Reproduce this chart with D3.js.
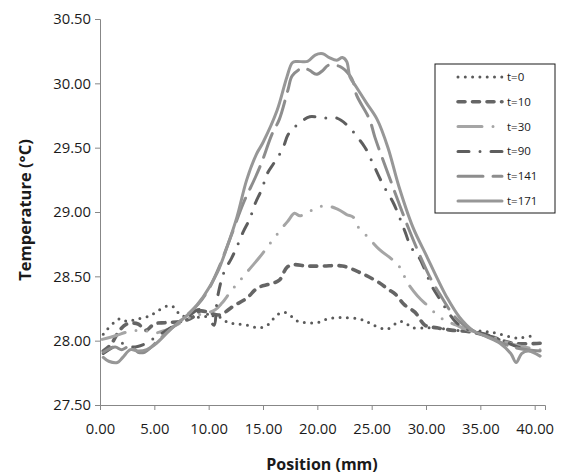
<!DOCTYPE html>
<html>
<head>
<meta charset="utf-8">
<script src="https://cdn.jsdelivr.net/npm/d3@7"></script>
<style>
    body { margin: 0; background: #fff; }
    text { font-family: 'Open Sans', sans-serif; fill: #1a1a1a; }
</style>
</head>
<body>
<div id="chart"></div>
<script>
// series labels
var seriesNames = ['t=0', 't=10', 't=30', 't=90', 't=141', 't=171'];

// [position (mm), temperature (C)]
var t0 = [[0.3,28.05],[1.8,28.17],[2.5,28.15],[3.5,28.17],[4.5,28.19],[5.3,28.23],[6.2,28.27],[6.8,28.26],[7.4,28.2],[8.5,28.18],[10.8,28.19],[11.8,28.14],[12.6,28.13],[13.6,28.12],[14.6,28.1],[15.4,28.12],[16.3,28.2],[17,28.22],[17.6,28.19],[18.2,28.15],[18.9,28.14],[20,28.14],[21,28.17],[22.3,28.18],[23.7,28.17],[24.5,28.15],[25.2,28.12],[26.4,28.09],[27.6,28.15],[28.2,28.13],[28.8,28.1],[30,28.1],[31,28.1],[32.5,28.08],[34,28.08],[35.6,28.07],[36.4,28.06],[37.7,28.03],[38.5,28.02],[39.2,28.03],[40.2,28.04]];
var t10 = [[0.3,27.92],[1,27.97],[1.8,28.08],[2.5,28.13],[3.5,28.13],[4.2,28.08],[5,28.13],[6,28.14],[7.5,28.15],[8.5,28.18],[9.2,28.23],[10,28.22],[11,28.2],[12.3,28.27],[13.5,28.33],[14.5,28.41],[15.6,28.44],[16.5,28.47],[17.2,28.57],[17.8,28.59],[19,28.58],[20.5,28.58],[22.3,28.58],[23.9,28.53],[25.7,28.45],[26.5,28.4],[27.2,28.36],[28,28.28],[29,28.22],[29.9,28.12],[31,28.1],[32.5,28.08],[34,28.07],[36,28.03],[38,27.98],[40.5,27.98]];
var t30 = [[0.2,28.01],[1.5,28.04],[2.6,28.07],[4,28.08],[5,28.06],[6,28.08],[7,28.12],[8,28.17],[9,28.2],[10,28.22],[10.6,28.24],[11.2,28.29],[12.1,28.39],[13,28.48],[13.8,28.56],[14.7,28.65],[15.6,28.75],[16.6,28.86],[17.3,28.93],[17.9,28.99],[18.4,28.97],[19.4,29.01],[20.7,29.05],[21.9,29.02],[22.7,28.98],[23.3,28.96],[23.7,28.89],[24.7,28.8],[25.7,28.71],[26.9,28.63],[27.6,28.57],[28.3,28.45],[29.2,28.35],[30.3,28.26],[31.3,28.18],[32,28.15],[32.8,28.12],[34,28.08],[35.5,28.05],[37,28.0],[38.5,27.96],[40.5,27.93]];
var t90 = [[0.3,27.9],[1.2,27.95],[2,27.98],[3,27.95],[4,27.97],[5,28.02],[6.5,28.1],[8,28.18],[9,28.24],[9.6,28.24],[10.2,28.15],[10.5,28.12],[10.8,28.33],[11.4,28.53],[12.1,28.64],[12.6,28.73],[13.2,28.85],[13.8,28.95],[14.2,29.05],[14.9,29.18],[15.4,29.3],[16,29.38],[16.8,29.49],[17.3,29.6],[17.8,29.65],[18.5,29.7],[19.3,29.74],[20.5,29.73],[21.8,29.73],[22.8,29.67],[23.7,29.58],[24.4,29.5],[25.1,29.38],[26,29.22],[27,29.07],[27.6,28.95],[28.1,28.84],[28.6,28.73],[29.4,28.64],[29.9,28.55],[30.5,28.43],[31.3,28.32],[31.9,28.24],[32.8,28.14],[34,28.08],[35.5,28.05],[37,28.0],[38.5,27.95],[40.5,27.9]];
var t141 = [[0.3,27.91],[1.4,27.95],[2,27.93],[2.8,27.96],[3.5,27.91],[4.1,27.91],[5.2,27.99],[6.5,28.09],[8,28.2],[9,28.28],[10,28.4],[11,28.58],[12,28.8],[13.2,29.07],[14.3,29.27],[14.9,29.39],[15.8,29.6],[16.5,29.72],[17.3,29.95],[17.7,30.06],[18.7,30.12],[19.3,30.1],[19.9,30.07],[20.5,30.1],[21,30.14],[22.1,30.13],[23,30.06],[23.3,30.01],[23.6,29.91],[24.8,29.72],[25.3,29.58],[26.5,29.3],[27.5,29.07],[28.5,28.85],[29.5,28.65],[30.5,28.47],[31.5,28.33],[32.5,28.2],[33.5,28.12],[34.5,28.07],[36,28.02],[38,27.95],[40.5,27.92]];
var t171 = [[0.3,27.87],[0.8,27.84],[1.6,27.83],[2.1,27.87],[2.8,27.93],[3.5,27.92],[4.3,27.93],[5.2,27.98],[6.4,28.08],[8.3,28.22],[9.5,28.34],[10.8,28.53],[11.7,28.73],[12.6,28.96],[13.5,29.25],[14.4,29.45],[15,29.54],[16.3,29.79],[17.2,30.05],[17.7,30.16],[18.1,30.17],[19.1,30.17],[19.8,30.22],[20.5,30.23],[21.1,30.2],[21.8,30.18],[22.3,30.2],[22.7,30.17],[23,30.05],[23.6,29.97],[24.5,29.85],[25.5,29.72],[26.5,29.5],[27.5,29.2],[28.8,28.88],[30.1,28.65],[31,28.49],[31.9,28.34],[33.1,28.18],[34.3,28.08],[35.6,28.03],[36.8,27.98],[37.8,27.9],[38.3,27.83],[38.8,27.9],[39.4,27.92],[40.5,27.88]];

var xTicks = [0, 5, 10, 15, 20, 25, 30, 35, 40];
var yTicks = [27.5, 28, 28.5, 29, 29.5, 30, 30.5];

var allSeries = [t0, t10, t30, t90, t141, t171];

// line styles for each series (Excel grayscale look)
var styles = [
    { color: '#5a5a5a', width: 3, dash: '0,7.3' },
    { color: '#656565', width: 3.6, dash: '7,7.5' },
    { color: '#a5a5a5', width: 3, dash: '24,11,0,11,0,11' },
    { color: '#5e5e5e', width: 3, dash: '11,11,0,11' },
    { color: '#8d8d8d', width: 3, dash: '25,10' },
    { color: '#979797', width: 3, dash: null }
];

var fullwidth = 562;
var fullheight = 474;
var margin = { top: 19, right: 17, bottom: 69, left: 100 };
var width = fullwidth - margin.left - margin.right;
var height = fullheight - margin.top - margin.bottom;

var svg = d3.select('#chart')
    .append('svg')
    .attr('width', fullwidth)
    .attr('height', fullheight);

var g = svg.append('g')
    .attr('transform', 'translate(' + margin.left + ',' + margin.top + ')');

var x = d3.scaleLinear().domain([0, 40.95]).range([0, width]);
var y = d3.scaleLinear().domain([27.5, 30.5]).range([height, 0]);

///////////// AXES
var yAxis = g.append('g')
    .call(d3.axisLeft(y).tickValues(yTicks).tickFormat(d3.format('.2f')).tickSizeOuter(0).tickSize(5).tickPadding(4));
var xAxis = g.append('g')
    .attr('transform', 'translate(0,' + height + ')')
    .call(d3.axisBottom(x).tickValues(xTicks).tickFormat(d3.format('.2f')).tickSizeOuter(0).tickSize(5).tickPadding(13));

[xAxis, yAxis].forEach(function(a) {
    a.selectAll('path, line').attr('stroke', '#878787').attr('stroke-width', 1);
    a.selectAll('text').style('font-size', '14.8px').style('font-family', "'Open Sans', sans-serif").attr('fill', '#1a1a1a');
});

svg.append('text')
    .attr('x', 322)
    .attr('y', 470)
    .attr('text-anchor', 'middle')
    .style('font-size', '16px')
    .style('font-weight', 'bold')
    .text('Position (mm)');

svg.append('text')
    .attr('transform', 'translate(31,210) rotate(-90)')
    .attr('text-anchor', 'middle')
    .style('font-size', '16.5px')
    .style('font-weight', 'bold')
    .text('Temperature (°C)');

///////////// LINES
var line = d3.line()
    .x(function(d) { return x(d[0]); })
    .y(function(d) { return y(d[1]); })
    .curve(d3.curveCatmullRom.alpha(0.5));

allSeries.forEach(function(s, i) {
    var st = styles[i];
    g.append('path')
        .datum(s)
        .attr('d', line)
        .attr('fill', 'none')
        .attr('stroke', st.color)
        .attr('stroke-width', st.width)
        .attr('stroke-linecap', 'round')
        .attr('stroke-linejoin', 'round')
        .attr('stroke-dasharray', st.dash);
});

///////////// LEGEND
var legend = svg.append('g').attr('transform', 'translate(435,64)');
legend.append('rect')
    .attr('width', 120)
    .attr('height', 149)
    .attr('fill', '#fff')
    .attr('stroke', '#1a1a1a')
    .attr('stroke-width', 1);

seriesNames.forEach(function(name, i) {
    var st = styles[i];
    var ly = 13 + i * 24.8;
    legend.append('line')
        .attr('x1', 23).attr('x2', 67)
        .attr('y1', ly).attr('y2', ly)
        .attr('stroke', st.color)
        .attr('stroke-width', st.width)
        .attr('stroke-linecap', 'round')
        .attr('stroke-dasharray', st.dash);
    legend.append('text')
        .attr('x', 72)
        .attr('y', ly + 4)
        .style('font-size', '11.5px')
        .text(name);
});
</script>
</body>
</html>
